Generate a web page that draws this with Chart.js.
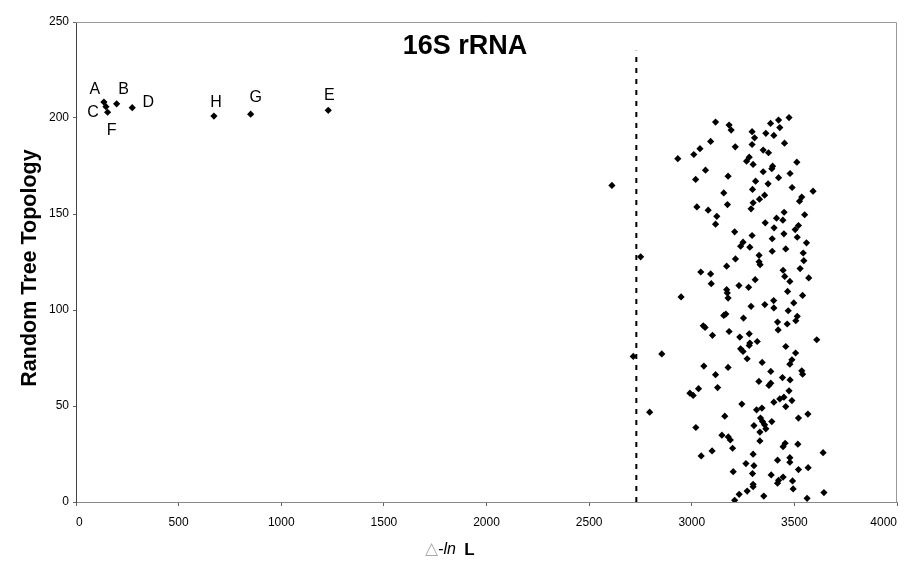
<!DOCTYPE html>
<html lang="en">
<head>
<meta charset="UTF-8">
<title>16S rRNA</title>
<script src="https://cdn.jsdelivr.net/npm/chart.js"></script>
<style>
    body { margin: 0; background: #fff; }
    #wrap { width: 907px; height: 567px; }
</style>
</head>
<body>
<div id="wrap"><canvas id="chart" width="907" height="567"></canvas></div>
<script>
// labelled trees (A-H)
const labelNames = ['A', 'C', 'F', 'B', 'D', 'H', 'G', 'E'];
const labelX = [136, 146, 154, 198, 274, 672, 851, 1229];
const labelY = [208.3, 205.9, 203, 207.4, 205.4, 201, 202, 204];

// random tree topologies
const randX = [
    3116,3092,3040,3010,2932,3067,3019,3177,3156,3174,3025,3080,3122,3116,
    3182,3192,3384,3423,3474,3429,3294,3361,3400,3306,3294,3212,3452,3348,3374,3280,3267,3299,3512,3394,3390,3348,3479,3423,3311,3372,3296,3489,3591,3355,3330,3299,3289,3536,3525,3450,3550,3413,3444,3358,3401,3520,3504,3209,3449,3294,3514,3392,3250,3559,
    2611,2751,2715,2854,2948,2795,
    3044,3092,3170,3095,3170,3173,3177,3166,3156,3056,3065,3101,3182,3059,3177,3116,
    3238,3283,3392,3458,3213,3328,3328,3333,3543,3546,3528,3445,3453,3570,3309,3478,3230,3277,3467,3540,3399,3356,3400,3289,3497,3470,3514,3507,3252,3418,3465,3421,3234,3280,3609,3319,3283,3280,3238,3250,3458,3506,3270,3488,3478,3343,3385,3536,3540,
    3126,3033,2991,3007,3161,3020,3147,3178,3188,3099,3046,
    3327,3376,3385,3442,3479,3244,3316,3342,3400,3429,3449,3474,3488,3458,3520,3566,3303,3335,3345,3355,3390,3361,3332,3332,3455,3445,3517,3199,3640,3299,3478,3478,3418,3264,3303,3520,3567,3202,3296,3387,3445,3423,3418,3491,3299,3299,3494,3270,3231,3351,3644,3209,3562
];
const randY = [
    197.9,187.8,184.0,181.0,178.8,172.8,168.0,169.7,161.0,154.9,153.7,152.0,148.8,144.7,
    196.3,193.7,197.2,198.9,200.2,195.0,192.9,192.0,190.9,189.7,186.2,185.0,186.9,183.3,181.9,179.6,177.5,175.8,177.0,174.9,173.6,172.0,171.1,168.9,167.1,165.7,162.8,163.8,161.9,159.8,157.7,155.8,152.7,158.8,156.7,150.9,149.6,147.8,146.8,145.4,142.8,144.0,141.9,140.7,139.7,138.8,137.9,137.1,135.3,135.0,
    164.9,127.7,75.8,77.1,106.8,46.8,
    119.8,118.8,122.8,113.7,110.6,108.9,106.2,97.9,97.2,91.8,90.9,86.8,88.8,70.8,70.1,66.3,
    133.2,132.7,130.6,131.8,126.6,128.5,125.1,123.6,129.7,125.7,121.6,120.7,117.5,116.7,115.8,114.9,112.7,111.8,109.7,107.6,104.9,102.8,101.1,101.9,103.7,99.6,96.7,94.4,95.8,93.7,92.7,89.6,85.9,87.6,84.5,83.6,82.8,81.5,79.8,78.4,81.0,77.6,74.6,74.1,71.8,72.7,68.0,68.3,66.6,
    59.6,59.0,56.7,55.5,44.7,38.8,34.8,33.9,32.3,26.6,24.0,
    62.8,60.7,61.9,64.8,63.6,51.0,48.0,48.9,52.0,53.7,54.6,57.9,52.8,49.7,43.7,45.8,39.8,43.7,41.9,40.2,41.9,38.1,36.4,31.8,30.6,28.8,30.1,28.0,25.7,24.9,23.1,20.7,21.8,20.0,18.9,16.9,17.9,15.8,14.8,14.1,13.0,11.3,9.8,11.0,9.2,8.0,6.8,5.7,4.0,3.1,4.9,0.9,1.9
];

// dashed cut-off line
const cutoffX = 2730;
const cutoffTop = 235;

// label offsets in px (letter position relative to its point)
const labelOffsets = {
    A: [-9, -12], C: [-13, 6], F: [4, 18], B: [7, -14],
    D: [16, -5], H: [2, -13], G: [5, -17], E: [1, -15]
};

const FONT = "'Liberation Sans', Arial, sans-serif";

const randPoints = randX.map((x, i) => ({ x: x, y: randY[i] }));
const labelPoints = labelX.map((x, i) => ({ x: x, y: labelY[i] }));

// titles, frame and letters
const decorPlugin = {
    id: 'decor',
    afterDraw(chart) {
        const ctx = chart.ctx;
        const a = chart.chartArea;
        const xs = chart.scales.x, ys = chart.scales.y;
        ctx.save();
        // top and right frame
        ctx.strokeStyle = '#999';
        ctx.lineWidth = 1;
        ctx.beginPath();
        ctx.moveTo(a.left, a.top + 0.5);
        ctx.lineTo(a.right - 0.5, a.top + 0.5);
        ctx.lineTo(a.right - 0.5, a.bottom);
        ctx.stroke();

        ctx.fillStyle = '#000';
        ctx.textAlign = 'center';
        ctx.textBaseline = 'middle';
        // chart title
        ctx.font = "bold 27px " + FONT;
        ctx.fillText('16S rRNA', 465, 47);

        // point letters
        ctx.font = "16px " + FONT;
        labelNames.forEach((n, i) => {
            const px = xs.getPixelForValue(labelX[i]);
            const py = ys.getPixelForValue(labelY[i]);
            const o = labelOffsets[n];
            ctx.fillText(n, px + o[0], py + o[1]);
        });

        // y axis title
        ctx.save();
        ctx.translate(30, 268);
        ctx.rotate(-Math.PI / 2);
        ctx.font = "bold 21.5px " + FONT;
        ctx.fillText('Random Tree Topology', 0, 0);
        ctx.restore();

        // x axis title: triangle, italic "-ln", bold "L"
        ctx.textAlign = 'left';
        let x = 425;
        const y = 550;
        ctx.font = "17px 'DejaVu Sans', sans-serif";
        ctx.fillStyle = '#aaa';
        ctx.fillText('\u25B3', x, y);
        x += ctx.measureText('\u25B3').width;
        ctx.fillStyle = '#000';
        ctx.font = "italic 16px " + FONT;
        ctx.fillText('-ln', x, y);
        x += ctx.measureText('-ln ').width + 4;
        ctx.font = "bold 17px " + FONT;
        ctx.fillText('L', x, y);
        ctx.restore();
    }
};

new Chart(document.getElementById('chart'), {
    type: 'scatter',
    data: {
        datasets: [
            {
                label: 'random',
                data: randPoints,
                pointStyle: 'rectRot',
                pointRadius: 3.6,
                backgroundColor: '#000',
                borderColor: '#000',
                borderWidth: 0
            },
            {
                label: 'labelled',
                data: labelPoints,
                pointStyle: 'rectRot',
                pointRadius: 3.6,
                backgroundColor: '#000',
                borderColor: '#000',
                borderWidth: 0
            },
            {
                type: 'line',
                label: 'cutoff',
                data: [{ x: cutoffX, y: 0 }, { x: cutoffX, y: cutoffTop }],
                borderColor: '#000',
                borderWidth: 2,
                borderDash: [5, 6],
                pointRadius: 0,
                fill: false
            }
        ]
    },
    options: {
        responsive: false,
        animation: false,
        layout: { padding: { top: 22, right: 10, left: 0, bottom: 0 } },
        plugins: {
            legend: { display: false },
            tooltip: { enabled: false },
            title: { display: false }
        },
        scales: {
            x: {
                type: 'linear',
                min: 0,
                max: 4000,
                ticks: {
                    stepSize: 500, color: '#000', font: { family: FONT, size: 12 }, padding: 9, maxRotation: 0,
                    align: 'inner',
                    callback: v => String(v)
                },
                grid: { drawOnChartArea: false, drawTicks: true, tickLength: 4, color: '#666' },
                border: { color: '#888', width: 1 },
                afterFit(scale) {
                    scale.height = 65;
                    scale.paddingLeft = 0;
                    scale.paddingRight = 0;
                }
            },
            y: {
                min: 0,
                max: 250,
                ticks: { stepSize: 50, color: '#000', font: { family: FONT, size: 12 }, padding: 4, callback: v => String(v) },
                grid: { drawOnChartArea: false, drawTicks: true, tickLength: 3, color: '#666' },
                border: { color: '#444', width: 1 },
                afterFit(scale) { scale.width = 76; }
            }
        }
    },
    plugins: [decorPlugin]
});
</script>
</body>
</html>
